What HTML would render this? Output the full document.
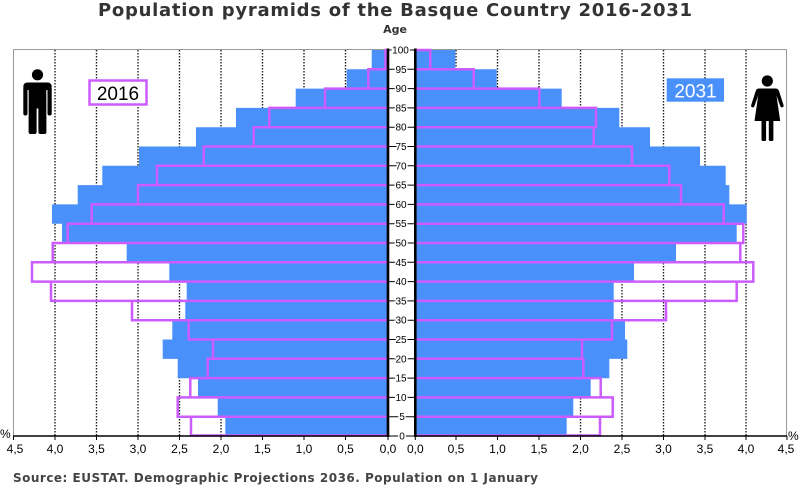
<!DOCTYPE html>
<html>
<head>
<meta charset="utf-8">
<style>
html,body{margin:0;padding:0;background:#fff;}
svg{display:block;}
</style>
</head>
<body>
<svg width="800" height="496" viewBox="0 0 800 496" xmlns="http://www.w3.org/2000/svg">
<rect width="800" height="496" fill="#fff"/>
<text x="98" y="16" font-family="DejaVu Sans, Liberation Sans, sans-serif" font-weight="bold" font-size="18" fill="#333" textLength="594" lengthAdjust="spacing">Population pyramids of the Basque Country 2016-2031</text>
<text x="395" y="33" text-anchor="middle" font-family="DejaVu Sans, Liberation Sans, sans-serif" font-weight="bold" font-size="11" fill="#333">Age</text>
<path d="M13.5 436V49.5H388M415 49.5H786.5V436" stroke="#9a9a9a" stroke-width="1" fill="none"/>
<path d="M55 50V436M96.5 50V436M138 50V436M179.5 50V436M221 50V436M262.5 50V436M304 50V436M345.5 50V436M456 50V436M497.5 50V436M539 50V436M580.5 50V436M622 50V436M663.5 50V436M705 50V436M746 50V436" stroke="#222" stroke-width="1.4" stroke-dasharray="1.5,1.5" fill="none"/>
<path fill="#4a90fa" d="M371.7 50H388V69.4H371.7ZM346.7 69.3H388V88.7H346.7ZM295.7 88.6H388V108H295.7ZM236 107.9H388V127.3H236ZM196 127.2H388V146.6H196ZM139 146.5H388V165.9H139ZM102.3 165.8H388V185.2H102.3ZM77.7 185.1H388V204.5H77.7ZM52 204.4H388V223.8H52ZM62 223.7H388V243.1H62ZM126.7 243H388V262.4H126.7ZM169.3 262.3H388V281.7H169.3ZM186.7 281.6H388V301H186.7ZM185.3 300.9H388V320.3H185.3ZM172.3 320.2H388V339.6H172.3ZM162.7 339.5H388V358.9H162.7ZM177.7 358.8H388V378.2H177.7ZM198 378.1H388V397.5H198ZM217.7 397.4H388V416.8H217.7ZM225.3 416.7H388V436H225.3Z"/>
<path fill="#4a90fa" d="M415 50H455.3V69.4H415ZM415 69.3H496.7V88.7H415ZM415 88.6H561.7V108H415ZM415 107.9H619.3V127.3H415ZM415 127.2H650V146.6H415ZM415 146.5H700V165.9H415ZM415 165.8H725.7V185.2H415ZM415 185.1H729.3V204.5H415ZM415 204.4H746.7V223.8H415ZM415 223.7H736.7V243.1H415ZM415 243H676V262.4H415ZM415 262.3H634V281.7H415ZM415 281.6H613.7V301H415ZM415 300.9H613.7V320.3H415ZM415 320.2H625V339.6H415ZM415 339.5H627.3V358.9H415ZM415 358.8H609.3V378.2H415ZM415 378.1H590.7V397.5H415ZM415 397.4H573.3V416.8H415ZM415 416.7H566.7V436H415Z"/>
<path fill="none" stroke="#cc5cff" stroke-width="2.5" d="M388 50H385.5V69.3H388M388 69.3H368.3V88.6H388M388 88.6H325V107.9H388M388 107.9H269.3V127.2H388M388 127.2H253.7V146.5H388M388 146.5H203.7V165.8H388M388 165.8H157V185.1H388M388 185.1H138V204.4H388M388 204.4H91.7V223.7H388M388 223.7H67.7V243H388M388 243H52.7V262.3H388M388 262.3H32V281.6H388M388 281.6H51V300.9H388M388 300.9H132V320.2H388M388 320.2H188.7V339.5H388M388 339.5H213V358.8H388M388 358.8H207.7V378.1H388M388 378.1H190.3V397.4H388M388 397.4H177.7V416.7H388M388 416.7H191V435.5H388"/>
<path fill="none" stroke="#cc5cff" stroke-width="2.5" d="M415 50H430.3V69.3H415M415 69.3H473.7V88.6H415M415 88.6H539.3V107.9H415M415 107.9H596V127.2H415M415 127.2H593.7V146.5H415M415 146.5H632V165.8H415M415 165.8H669.3V185.1H415M415 185.1H681V204.4H415M415 204.4H723.7V223.7H415M415 223.7H743.3V243H415M415 243H740.3V262.3H415M415 262.3H753.3V281.6H415M415 281.6H736.7V300.9H415M415 300.9H666V320.2H415M415 320.2H612V339.5H415M415 339.5H582V358.8H415M415 358.8H583.3V378.1H415M415 378.1H600.7V397.4H415M415 397.4H612.7V416.7H415M415 416.7H600V435.5H415"/>
<path stroke="#000" stroke-width="1" fill="none" d="M389 50H414M389 69.3H414M389 88.6H414M389 107.9H414M389 127.2H414M389 146.5H414M389 165.8H414M389 185.1H414M389 204.4H414M389 223.7H414M389 243H414M389 262.3H414M389 281.6H414M389 300.9H414M389 320.2H414M389 339.5H414M389 358.8H414M389 378.1H414M389 397.4H414M389 416.7H414M389 436H414"/>
<g font-family="Liberation Sans, Arial, sans-serif" font-size="10" fill="#000" text-anchor="middle" stroke="#fff" stroke-width="3" paint-order="stroke">
<text x="400.5" y="53.5">100</text><text x="401" y="72.8">95</text><text x="401" y="92.1">90</text><text x="401" y="111.4">85</text><text x="401" y="130.7">80</text><text x="401" y="150">75</text><text x="401" y="169.3">70</text>
<text x="401" y="188.6">65</text><text x="401" y="207.9">60</text><text x="401" y="227.2">55</text><text x="401" y="246.5">50</text><text x="401" y="265.8">45</text><text x="401" y="285.1">40</text><text x="401" y="304.4">35</text>
<text x="401" y="323.7">30</text><text x="401" y="343">25</text><text x="401" y="362.3">20</text><text x="401" y="381.6">15</text><text x="401" y="400.9">10</text><text x="402" y="420.2">5</text><text x="402" y="439.5">0</text>
</g>
<path stroke="#000" stroke-width="2.6" fill="none" d="M388 48.5V437M415.3 48.5V437"/>
<path stroke="#000" stroke-width="1.5" fill="none" d="M13 436H388M415 436H787"/>
<path stroke="#000" stroke-width="1" fill="none" d="M13.5 436V440M55 436V440M96.5 436V440M138 436V440M179.5 436V440M221 436V440M262.5 436V440M304 436V440M345.5 436V440M388 436V440M415.3 436V440M456 436V440M497.5 436V440M539 436V440M580.5 436V440M622 436V440M663.5 436V440M705 436V440M746 436V440M787 436V440"/>
<g font-family="Liberation Sans, Arial, sans-serif" font-size="12" fill="#000" text-anchor="middle">
<text x="15" y="453">4,5</text><text x="55" y="453">4,0</text><text x="96.5" y="453">3,5</text><text x="138" y="453">3,0</text><text x="179.5" y="453">2,5</text><text x="221" y="453">2,0</text><text x="262.5" y="453">1,5</text><text x="304" y="453">1,0</text><text x="345.5" y="453">0,5</text><text x="388" y="453">0,0</text>
<text x="415.3" y="453">0,0</text><text x="456" y="453">0,5</text><text x="497.5" y="453">1,0</text><text x="539" y="453">1,5</text><text x="580.5" y="453">2,0</text><text x="622" y="453">2,5</text><text x="663.5" y="453">3,0</text><text x="705" y="453">3,5</text><text x="746" y="453">4,0</text><text x="786" y="453">4,5</text>
</g>
<text x="0" y="438" font-family="Liberation Sans, Arial, sans-serif" font-size="12" fill="#000">%</text>
<text x="788" y="440" font-family="Liberation Sans, Arial, sans-serif" font-size="12" fill="#000">%</text>
<rect x="89.5" y="80.5" width="57" height="24" fill="#fff" stroke="#cc5cff" stroke-width="2.5"/>
<text x="118" y="100" text-anchor="middle" font-family="Liberation Sans, Arial, sans-serif" font-size="19" fill="#000">2016</text>
<rect x="666.7" y="78.3" width="57.3" height="23.4" fill="#4a90fa"/>
<text x="695.5" y="97.5" text-anchor="middle" font-family="Liberation Sans, Arial, sans-serif" font-size="19" fill="#fff">2031</text>
<g fill="#000">
<circle cx="37.5" cy="74.8" r="5.6"/>
<rect x="23.3" y="82.5" width="28.4" height="8" rx="4"/>
<rect x="23.3" y="86" width="4.2" height="29.5" rx="2"/>
<rect x="47.5" y="86" width="4.2" height="29.5" rx="2"/>
<rect x="28.6" y="82.5" width="17.8" height="26"/>
<rect x="28.6" y="104" width="8" height="30" rx="2"/>
<rect x="38.4" y="104" width="8" height="30" rx="2"/>
</g>
<path fill="#fff" d="M27.5 90h1.1v26h-1.1ZM46.4 90h1.1v26h-1.1Z"/>
<g fill="#000">
<circle cx="767.3" cy="81" r="5.6"/>
<path d="M759 88.5H775.5Q778 88.5 779 91L783.5 105Q784 107 782.2 107.4Q780.7 107.6 780.2 106L776.5 95.5L780.2 121H754.5L758.2 95.5L754.5 106Q754 107.6 752.5 107.4Q750.7 107 751.2 105L755.7 91Q756.5 88.5 759 88.5Z"/>
<rect x="761.5" y="119" width="4.6" height="22" rx="1.5"/>
<rect x="768.8" y="119" width="4.6" height="22" rx="1.5"/>
</g>
<text x="13" y="482" font-family="DejaVu Sans, Liberation Sans, sans-serif" font-weight="bold" font-size="12" fill="#444" textLength="525" lengthAdjust="spacing">Source: EUSTAT. Demographic Projections 2036. Population on 1 January</text>
</svg>
</body>
</html>
